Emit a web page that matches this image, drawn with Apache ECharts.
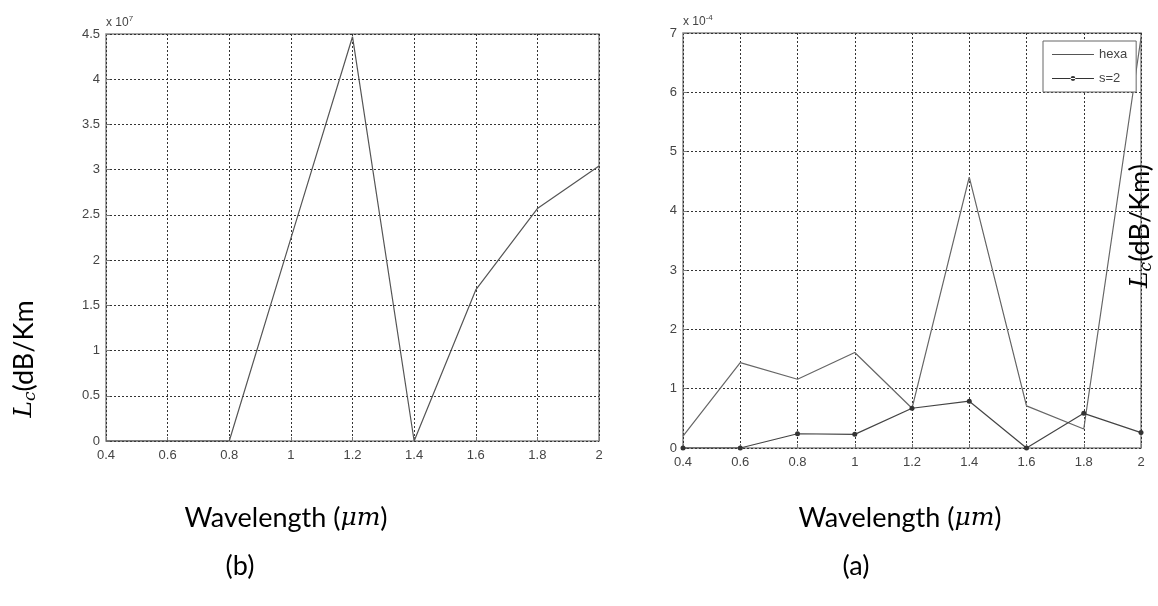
<!DOCTYPE html>
<html>
<head>
<meta charset="utf-8">
<script src="https://cdn.jsdelivr.net/npm/echarts@6/dist/echarts.min.js"></script>
<style>
html,body{margin:0;padding:0;background:#fff;}
#chart{width:1158px;height:606px;}
</style>
</head>
<body>
<div id="chart"></div>
<script>
// ---- data ----
const wavelengths = [0.4, 0.6, 0.8, 1.0, 1.2, 1.4, 1.6, 1.8, 2.0];
// panel (b): values in units of 1e7
const lossB = [0, 0, 0, 2.24, 4.47, 0, 1.67, 2.57, 3.04];
// panel (a): values in units of 1e-4
const hexa = [0.2, 1.44, 1.16, 1.61, 0.67, 4.57, 0.71, 0.32, 6.92];
const s2 = [0, 0, 0.24, 0.23, 0.67, 0.79, 0, 0.585, 0.26];
const seriesNames = ['hexa', 's=2'];
const expB = '7';
const expA = '-4';

const pair = (xs, ys) => xs.map((x, i) => [x, ys[i]]);

const labelStyle = {fontFamily: 'Liberation Sans', fontSize: 13, color: '#444'};
const gridLine = {show: true, lineStyle: {color: '#333', width: 1, type: [2, 2]}};
const fmt = v => String(+v.toFixed(2));

function xAxisFor(gi) {
  return {
    type: 'value', gridIndex: gi, min: 0.4, max: 2, interval: 0.2,
    axisLine: {show: false},
    axisTick: {show: true, inside: true, length: 4, lineStyle: {color: '#777'}},
    axisLabel: Object.assign({margin: 8, formatter: fmt}, labelStyle),
    splitLine: gridLine
  };
}
function yAxisFor(gi, max, interval, exp) {
  return {
    type: 'value', gridIndex: gi, min: 0, max: max, interval: interval,
    name: '{a|x 10}{b|' + exp + '}',
    nameLocation: 'end', nameGap: 3,
    nameTextStyle: {
      align: 'left', verticalAlign: 'bottom',
      rich: {
        a: {fontFamily: 'Liberation Sans', fontSize: 12, color: '#444'},
        b: {fontFamily: 'Liberation Sans', fontSize: 8, color: '#444', padding: [0, 0, 8, 0]}
      }
    },
    axisLine: {show: false},
    axisTick: {show: true, inside: true, length: 4, lineStyle: {color: '#777'}},
    axisLabel: Object.assign({margin: 6, formatter: fmt}, labelStyle),
    splitLine: gridLine
  };
}

const bigFont = 'Lato';
const mathRich = {
  n: {fontFamily: bigFont, fontSize: 27, color: '#111'},
  i: {fontFamily: 'DejaVu Serif', fontStyle: 'italic', fontSize: 25, color: '#111'},
  s: {fontFamily: 'DejaVu Serif', fontStyle: 'italic', fontSize: 17, color: '#111', padding: [13, 0, 0, 0]}
};
function txt(x, y, text, rot) {
  return {
    type: 'text', x: x, y: y, rotation: rot || 0,
    style: {text: text, rich: mathRich, align: 'center', verticalAlign: 'middle'}
  };
}

// legend glyphs: plain line, and line with a small dot
const iconLine = 'path://M0,4.4h42v1.2h-42z M0,0h0.01v0.01h-0.01z M0,10h0.01v0.01h-0.01z';
const iconLineDot = 'path://M0,4.4h42v1.2h-42z M0,0h0.01v0.01h-0.01z M0,10h0.01v0.01h-0.01z M21,2.6a2.4,2.4 0 1,0 0.01,0z';

const option = {
  backgroundColor: '#fff',
  animation: false,
  grid: [
    {left: 106, top: 34, width: 493, height: 407, show: true, borderColor: '#888', borderWidth: 1.5, backgroundColor: 'transparent'},
    {left: 683, top: 33, width: 458, height: 415, show: true, borderColor: '#888', borderWidth: 1.5, backgroundColor: 'transparent'}
  ],
  xAxis: [xAxisFor(0), xAxisFor(1)],
  yAxis: [yAxisFor(0, 4.5, 0.5, expB), yAxisFor(1, 7, 1, expA)],
  legend: {
    show: true,
    data: [
      {name: seriesNames[0], icon: iconLine},
      {name: seriesNames[1], icon: iconLineDot}
    ],
    orient: 'vertical',
    left: 1043, top: 41,
    itemWidth: 42, itemHeight: 10, itemGap: 11,
    padding: [7, 9, 7, 9],
    borderColor: '#666', borderWidth: 1, borderRadius: 0,
    backgroundColor: '#fff',
    textStyle: {fontFamily: 'Liberation Sans', fontSize: 13, color: '#444'}
  },
  series: [
    {
      type: 'line', xAxisIndex: 0, yAxisIndex: 0, name: 'b',
      data: pair(wavelengths, lossB), symbol: 'none',
      lineStyle: {color: '#555', width: 1.2}
    },
    {
      type: 'line', xAxisIndex: 1, yAxisIndex: 1, name: seriesNames[0],
      data: pair(wavelengths, hexa), symbol: 'none',
      itemStyle: {color: '#555'},
      lineStyle: {color: '#666', width: 1.2}
    },
    {
      type: 'line', xAxisIndex: 1, yAxisIndex: 1, name: seriesNames[1],
      data: pair(wavelengths, s2), symbol: 'circle', symbolSize: 5,
      itemStyle: {color: '#333'},
      lineStyle: {color: '#444', width: 1.2}
    }
  ],
  graphic: [
    txt(24, 359, '{i|L}{s|c}{n|(dB/Km}', Math.PI / 2),
    txt(1140, 226, '{i|L}{s|c}{n|(dB/Km)}', Math.PI / 2),
    txt(286, 518, '{n|Wavelength (}{i|μm}{n|)}'),
    txt(240, 566, '{n|(b)}'),
    txt(900, 518, '{n|Wavelength (}{i|μm}{n|)}'),
    txt(856, 566, '{n|(a)}')
  ]
};

const chart = echarts.init(document.getElementById('chart'), null, {renderer: 'canvas'});
chart.setOption(option);
</script>
</body>
</html>
